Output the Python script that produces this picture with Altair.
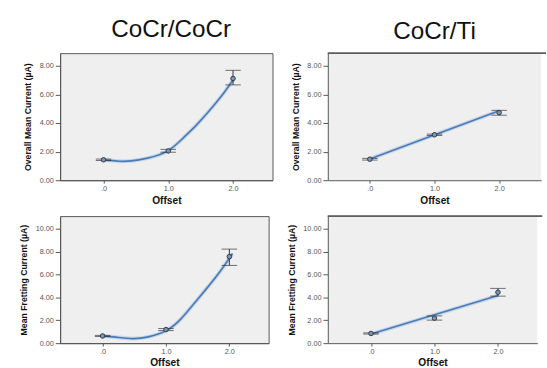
import altair as alt
import pandas as pd

# ---------------- data ----------------
offsets = [0, 1, 2]

# CoCr/CoCr - Overall Mean Current
p1_mean = [1.43, 2.05, 7.12]
p1_lo = [1.38, 1.96, 6.67]
p1_hi = [1.48, 2.16, 7.69]
p1_fit_x = [0.0, 0.23, 0.43, 0.68, 0.98, 1.23, 1.43, 1.63, 1.83, 2.0]
p1_fit_y = [1.42, 1.33, 1.35, 1.55, 2.02, 2.95, 3.84, 4.84, 5.94, 7.01]

# CoCr/Ti - Overall Mean Current
p2_mean = [1.47, 3.18, 4.73]
p2_lo = [1.41, 3.13, 4.55]
p2_hi = [1.53, 3.23, 4.89]
p2_fit_x = [0.0, 2.0]
p2_fit_y = [1.49, 4.86]

# CoCr/CoCr - Mean Fretting Current
p3_mean = [0.63, 1.19, 7.58]
p3_lo = [0.58, 1.10, 6.81]
p3_hi = [0.68, 1.28, 8.24]
p3_fit_x = [0.01, 0.21, 0.47, 0.72, 1.01, 1.24, 1.44, 1.64, 1.85, 2.05]
p3_fit_y = [0.62, 0.53, 0.40, 0.55, 1.12, 2.15, 3.45, 4.78, 6.25, 7.85]

# CoCr/Ti - Mean Fretting Current
p4_mean = [0.85, 2.19, 4.46]
p4_lo = [0.80, 2.02, 4.12]
p4_hi = [0.90, 2.39, 4.80]
p4_fit_x = [0.0, 2.0]
p4_fit_y = [0.80, 4.17]

y_ticks_top = [0, 2, 4, 6, 8]
y_ticks_bottom = [0, 2, 4, 6, 8, 10]
x_ticks = [0, 1, 2]

titles = ["CoCr/CoCr", "CoCr/Ti"]
y_title_top = "Overall Mean Current (µA)"
y_title_bottom = "Mean Fretting Current  (µA)"
x_title = "Offset"

FONT = "Liberation Sans"
BG = "#efefef"
BORDER = "#555555"


def panel(mean, lo, hi, fx, fy, xdom, ydom, yvals, ytitle, width, height,
          title=None, title_dx=0, title_offset=10, open_right=False):
    pts = pd.DataFrame({"x": offsets, "m": mean, "lo": lo, "hi": hi})
    ln = pd.DataFrame({"x": fx, "y": fy})
    xs = alt.Scale(domain=xdom, nice=False, zero=False)
    ys = alt.Scale(domain=ydom, nice=False, zero=False)
    xax = alt.Axis(values=x_ticks, title=x_title,
                   labelExpr="datum.value == 0 ? '.0' : format(datum.value, '.1f')")
    yax = alt.Axis(values=yvals, format=".2f", title=ytitle)

    def X():
        return alt.X("x:Q", scale=xs, axis=xax)

    def Y(f):
        return alt.Y(f, type="quantitative", scale=ys, axis=yax)

    glow = alt.Chart(ln).mark_line(interpolate="natural", color="#c3d3e8",
                                   strokeWidth=4, opacity=0.9).encode(x=X(), y=Y("y"))
    line = alt.Chart(ln).mark_line(interpolate="natural", color="#4a7bb7",
                                   strokeWidth=1.7).encode(x=X(), y=Y("y"))
    bars = alt.Chart(pts).mark_rule(color="#333333", strokeWidth=1).encode(
        x=X(), y=Y("lo"), y2=alt.Y2("hi"))
    cap_hi = alt.Chart(pts).mark_tick(orient="horizontal", size=16, thickness=1,
                                      color="#333333").encode(x=X(), y=Y("hi"))
    cap_lo = alt.Chart(pts).mark_tick(orient="horizontal", size=16, thickness=1,
                                      color="#333333").encode(x=X(), y=Y("lo"))
    dots = alt.Chart(pts).mark_point(shape="circle", filled=True, size=22,
                                     fill="#7f95ac", stroke="#2c3b4c",
                                     strokeWidth=1, opacity=1).encode(x=X(), y=Y("m"))
    layers = [glow, line, bars, cap_hi, cap_lo, dots]
    if open_right:
        top = alt.Chart(pts).mark_rule(color=BORDER, strokeWidth=1).encode(
            x=alt.value(0), x2=alt.value(width + 5), y=alt.value(0))
        layers.append(top)
    props = dict(width=width, height=height)
    if open_right:
        props["view"] = alt.ViewBackground(fill=BG, stroke=None)
    if title is not None:
        props["title"] = alt.TitleParams(title, fontSize=25, font=FONT,
                                         fontWeight="normal", anchor="middle",
                                         dx=title_dx, offset=title_offset,
                                         color="#111111")
    return alt.layer(*layers).properties(**props)


p1 = panel(p1_mean, p1_lo, p1_hi, p1_fit_x, p1_fit_y, [-0.67, 2.61], [0, 8.89],
           y_ticks_top, y_title_top, 219, 131, title=titles[0], title_dx=5, title_offset=12)
p2 = panel(p2_mean, p2_lo, p2_hi, p2_fit_x, p2_fit_y, [-0.65, 2.65], [0, 8.89],
           y_ticks_top, y_title_top, 220, 131, title=titles[1], title_dx=0,
           title_offset=9, open_right=True)
p3 = panel(p3_mean, p3_lo, p3_hi, p3_fit_x, p3_fit_y, [-0.67, 2.62], [0, 11.13],
           y_ticks_bottom, y_title_bottom, 215, 131)
p4 = panel(p4_mean, p4_lo, p4_hi, p4_fit_x, p4_fit_y, [-0.68, 2.62], [0, 11.13],
           y_ticks_bottom, y_title_bottom, 216, 131, open_right=True)

top_row = alt.hconcat(p1, p2, spacing=18)
bottom_row = alt.hconcat(p3, p4, spacing=18)

chart = (
    alt.vconcat(top_row, bottom_row, spacing=9)
    .properties(padding={"left": 19, "top": 11, "right": 0, "bottom": 0},
                background="white")
    .configure_view(fill=BG, stroke=BORDER, strokeWidth=1)
    .configure_axis(
        labelFont=FONT,
        titleFont=FONT,
        labelFontSize=7.5,
        labelColor="#555555",
        titleFontSize=9,
        titleFontWeight="bold",
        titleColor="#111111",
        domainColor=BORDER,
        tickColor=BORDER,
        tickSize=5,
        labelPadding=2,
        titlePadding=7,
        grid=False,
    )
    .configure_axisX(tickSize=3, titlePadding=3, titleFontSize=10.5)
)

chart.save("out.html", embed_options={"renderer": "svg", "actions": False})
